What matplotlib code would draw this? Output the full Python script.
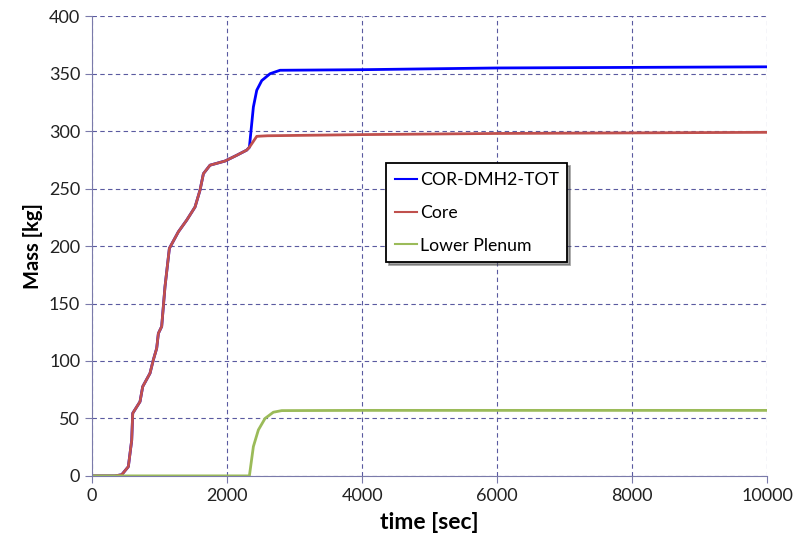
import matplotlib.pyplot as plt

# core mass (red)
core_t = [0, 340, 440, 538, 588, 603, 711, 751, 859, 908, 958, 983, 1032, 1081,
          1146, 1279, 1403, 1526, 1600, 1650, 1748, 1970, 2143, 2291, 2331,
          2440, 2600, 4000, 6000, 8000, 10000]
core_m = [0, 0, 1, 8, 31, 54.5, 64.6, 77.7, 89.3, 100.9, 111, 124, 130, 164.6,
          198, 212.4, 222.6, 234, 248.7, 263, 270.4, 274, 279, 283.5, 286,
          295.5, 296, 297, 298, 298.5, 299]

# total (blue)
tot_t = [0, 340, 440, 538, 588, 603, 711, 751, 859, 908, 958, 983, 1032, 1081,
         1146, 1279, 1403, 1526, 1600, 1650, 1748, 1970, 2143, 2291, 2331,
         2390, 2440, 2514, 2637, 2785, 4000, 6000, 8000, 10000]
tot_m = [0, 0, 1, 8, 31, 54.5, 64.6, 77.7, 89.3, 100.9, 111, 124, 130, 164.6,
         198, 212.4, 222.6, 234, 248.7, 263, 270.4, 274, 279, 283.5, 286,
         321, 335.6, 344, 350, 353, 353.5, 355, 355.5, 356]

# lower plenum (green)
lp_t = [0, 2331, 2390, 2464, 2563, 2686, 2810, 4000, 10000]
lp_m = [0, 0, 25.5, 40, 50, 55.4, 56.8, 57, 57]

plt.rcParams['font.family'] = ['Lato', 'DejaVu Sans']

fig = plt.figure(figsize=(8, 5.42), dpi=100)
ax = fig.add_axes([0.115, 0.122, 0.844, 0.848])

ax.plot(tot_t, tot_m, color='#0000ff', lw=2, label='COR-DMH2-TOT')
ax.plot(core_t, core_m, color='#c0504d', lw=2, label='Core')
ax.plot(lp_t, lp_m, color='#9bbb59', lw=2, label='Lower Plenum')

ax.set_xlim(0, 10000)
ax.set_ylim(0, 400)
ax.set_xticks(range(0, 10001, 2000))
ax.set_yticks(range(0, 401, 50))
ax.grid(True, color='#5a5aa0', ls=(0, (4, 3)), lw=0.8)
ax.set_axisbelow(True)
for s in ['top', 'right']:
    ax.spines[s].set_visible(False)
for s in ['left', 'bottom']:
    ax.spines[s].set_color('#7a7aaa')
ax.tick_params(colors='#7a7aaa', labelcolor='#222222', labelsize=13, length=5)

ax.set_xlabel('time [sec]', fontsize=16.5, fontweight='bold', labelpad=6)
ax.set_ylabel('Mass [kg]', fontsize=14.5, fontweight='bold', labelpad=4)

leg = ax.legend(loc='upper left', bbox_to_anchor=(0.4356, 0.680), borderaxespad=0,
                fontsize=12.7, frameon=True, fancybox=False, shadow=True,
                handlelength=1.25, handletextpad=0.15, borderpad=0.5,
                labelspacing=0.95)
leg.get_frame().set_edgecolor('black')
leg.get_frame().set_linewidth(1.3)
for line in leg.get_lines():
    line.set_linewidth(1.5)

fig.savefig('out.png', dpi=100)
